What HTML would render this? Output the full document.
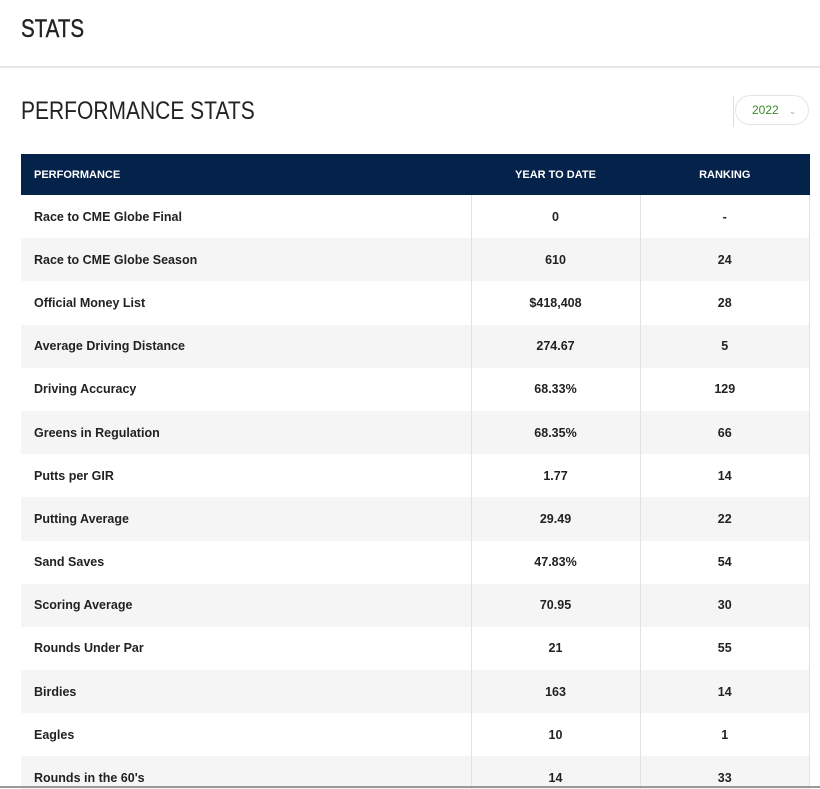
<!DOCTYPE html>
<html><head><style>
html,body{margin:0;width:820px;height:789px;overflow:hidden;background:#fff;font-family:"Liberation Sans",sans-serif;position:relative}
.t1{position:absolute;left:21px;top:15px;font-size:25px;color:#222;transform:scaleX(.82);transform-origin:left;-webkit-text-stroke:.4px #222}
.hr{position:absolute;left:0;top:66px;width:820px;height:2px;background:#e6e6e6}
.t2{position:absolute;left:21px;top:97px;font-size:25px;color:#222;transform:scaleX(.84);transform-origin:left}
.sel{position:absolute;left:735px;top:95px;width:74px;height:30px;border:1px solid #e4e4e4;border-radius:16px;box-sizing:border-box;font-size:12px;color:#3a8a2a;line-height:28px;padding-left:16px}
.sel span{color:#aaa;font-size:9px;margin-left:10px}
.vl{position:absolute;left:733px;top:96px;width:1px;height:31px;background:#ddd}
table{position:absolute;left:21px;top:154px;width:789px;border-collapse:collapse;font-size:12.5px;font-weight:bold;color:#222}
th{background:#04224a;color:#fff;height:41px;font-size:11px;padding:0}
td{height:43.2px;padding:0;box-sizing:border-box}
th:first-child,td:first-child{text-align:left;padding-left:13px;width:437px}
td:nth-child(2),th:nth-child(2){width:169px;text-align:center;border-left:1px solid #e2e2e2}
td:nth-child(3),th:nth-child(3){text-align:center;border-left:1px solid #e2e2e2;border-right:1px solid #e2e2e2}
th{border:none!important}
tr:nth-child(odd) td{background:#f5f5f5}
.bl{position:absolute;left:0;top:786px;width:820px;height:2px;background:#999}
</style></head><body>
<div class="t1">STATS</div>
<div class="hr"></div>
<div class="t2">PERFORMANCE STATS</div>
<div class="vl"></div>
<div class="sel">2022<span>&#8964;</span></div>
<table>
<tr><th>PERFORMANCE</th><th>YEAR TO DATE</th><th>RANKING</th></tr>
<tr><td>Race to CME Globe Final</td><td>0</td><td>-</td></tr>
<tr><td>Race to CME Globe Season</td><td>610</td><td>24</td></tr>
<tr><td>Official Money List</td><td>$418,408</td><td>28</td></tr>
<tr><td>Average Driving Distance</td><td>274.67</td><td>5</td></tr>
<tr><td>Driving Accuracy</td><td>68.33%</td><td>129</td></tr>
<tr><td>Greens in Regulation</td><td>68.35%</td><td>66</td></tr>
<tr><td>Putts per GIR</td><td>1.77</td><td>14</td></tr>
<tr><td>Putting Average</td><td>29.49</td><td>22</td></tr>
<tr><td>Sand Saves</td><td>47.83%</td><td>54</td></tr>
<tr><td>Scoring Average</td><td>70.95</td><td>30</td></tr>
<tr><td>Rounds Under Par</td><td>21</td><td>55</td></tr>
<tr><td>Birdies</td><td>163</td><td>14</td></tr>
<tr><td>Eagles</td><td>10</td><td>1</td></tr>
<tr><td>Rounds in the 60's</td><td>14</td><td>33</td></tr>
</table>
<div class="bl"></div>
</body></html>
